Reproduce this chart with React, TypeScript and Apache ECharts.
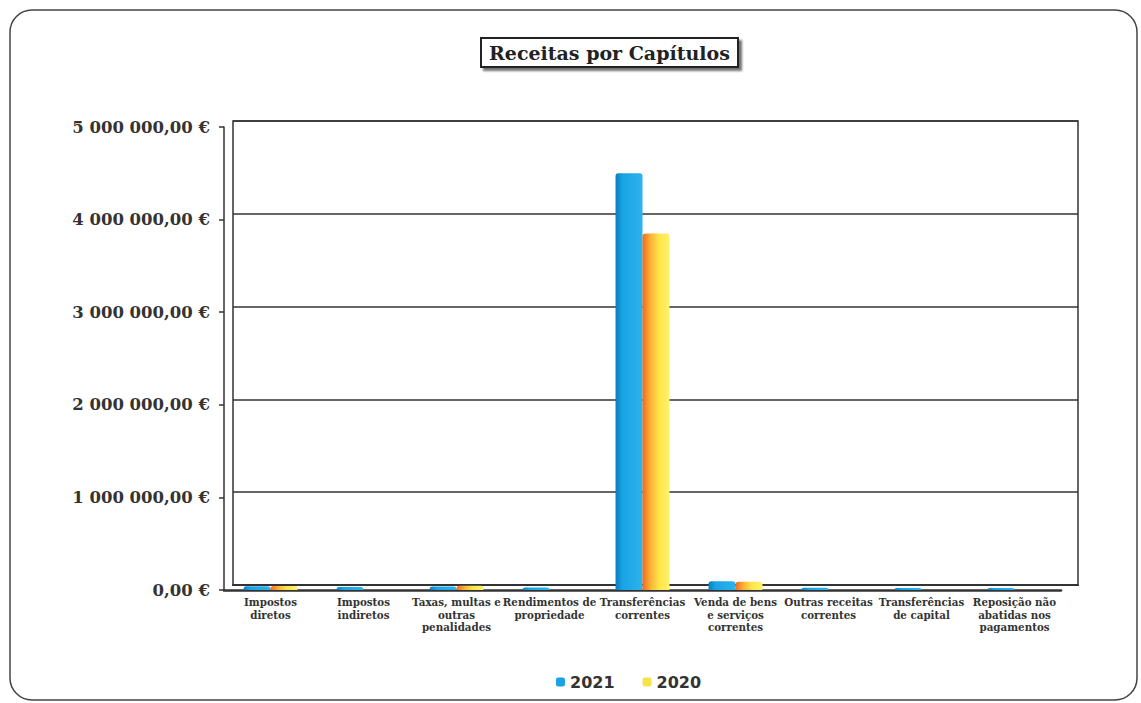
import React, { useEffect, useRef } from "react";
import * as echarts from "echarts";

const categories = [
  "Impostos\ndiretos",
  "Impostos\nindiretos",
  "Taxas, multas e\noutras\npenalidades",
  "Rendimentos de\npropriedade",
  "Transferências\ncorrentes",
  "Venda de bens\ne serviços\ncorrentes",
  "Outras receitas\ncorrentes",
  "Transferências\nde capital",
  "Reposição não\nabatidas nos\npagamentos",
];
const values2021 = [40000, 32000, 38000, 28000, 4500000, 95000, 25000, 22000, 22000];
const values2020 = [42000, 0, 45000, 0, 3850000, 90000, 0, 0, 0];
const yTicks = { min: 0, max: 5000000, interval: 1000000 };
const titleText = "Receitas por Capítulos";
const seriesNames = ["2021", "2020"];

function fmtEuro(v: number): string {
  const parts = Math.round(v).toString().replace(/\B(?=(\d{3})+(?!\d))/g, " ");
  return parts + ",00 €";
}

export default function App() {
  const ref = useRef<HTMLDivElement>(null);
  useEffect(() => {
    if (!ref.current) return;
    const chart = echarts.init(ref.current, null, { renderer: "svg" });
    const blue = new echarts.graphic.LinearGradient(0, 0, 1, 0, [
      { offset: 0, color: "#0a7cc0" },
      { offset: 0.25, color: "#19a3e4" },
      { offset: 1, color: "#2db3ee" },
    ]);
    const yellow = new echarts.graphic.LinearGradient(0, 0, 1, 0, [
      { offset: 0, color: "#ee6a22" },
      { offset: 0.3, color: "#ffb236" },
      { offset: 0.6, color: "#ffe448" },
      { offset: 1, color: "#fff26a" },
    ]);
    chart.setOption({
      animation: false,
      backgroundColor: "#ffffff",
      title: {
        text: titleText,
        left: 481,
        top: 38,
        padding: [5, 8],
        borderColor: "#222",
        borderWidth: 2,
        backgroundColor: "#fff",
        shadowColor: "rgba(0,0,0,0.55)",
        shadowOffsetX: 3,
        shadowOffsetY: 3,
        shadowBlur: 2,
        textStyle: {
          fontFamily: "DejaVu Serif",
          fontWeight: "bold",
          fontSize: 19,
          color: "#222",
        },
      },
      legend: {
        data: [
          { name: seriesNames[0], itemStyle: { color: "#19a3e4" } },
          { name: seriesNames[1], itemStyle: { color: "#f7e24a" } },
        ],
        bottom: 8,
        left: 551,
        itemWidth: 9,
        itemHeight: 9,
        itemGap: 28,
        icon: "roundRect",
        textStyle: {
          fontFamily: "DejaVu Sans",
          fontWeight: "bold",
          fontSize: 16,
          color: "#333",
        },
      },
      graphic: [
        {
          type: "rect",
          shape: { x: 10, y: 10, width: 1127, height: 690, r: 22 },
          style: { fill: "none", stroke: "#444", lineWidth: 1.5 },
          silent: true,
          z: 100,
        },
      ],
      grid: [
        {
          left: 233,
          right: 63,
          top: 121,
          bottom: 118,
          show: true,
          borderColor: "#333",
          borderWidth: 1.5,
        },
        {
          left: 224,
          right: 80,
          top: 127,
          bottom: 113,
        },
      ],
      xAxis: [
        {
          type: "category",
          gridIndex: 0,
          data: categories,
          axisLine: { show: true, lineStyle: { color: "#333", width: 2 } },
          axisTick: { show: false },
          axisLabel: { show: false },
        },
        {
          type: "category",
          gridIndex: 1,
          data: categories,
          axisLine: { show: true, lineStyle: { color: "#333", width: 2.5 } },
          axisTick: { show: false },
          axisLabel: {
            interval: 0,
            margin: 6,
            fontFamily: "DejaVu Serif",
            fontWeight: "bold",
            fontSize: 10.3,
            lineHeight: 12.5,
            color: "#333",
          },
        },
      ],
      yAxis: [
        {
          type: "value",
          gridIndex: 0,
          min: yTicks.min,
          max: yTicks.max,
          interval: yTicks.interval,
          axisLine: { show: false },
          axisTick: { show: false },
          axisLabel: { show: false },
          splitLine: { show: true, lineStyle: { color: "#333", width: 1.5 } },
        },
        {
          type: "value",
          gridIndex: 1,
          min: yTicks.min,
          max: yTicks.max,
          interval: yTicks.interval,
          axisLine: { show: true, lineStyle: { color: "#333", width: 1.5 } },
          axisTick: { show: true, length: 5, lineStyle: { color: "#333", width: 1.5 } },
          splitLine: { show: false },
          axisLabel: {
            margin: 14,
            formatter: (v: number) => fmtEuro(v),
            fontFamily: "DejaVu Serif",
            fontWeight: "bold",
            fontSize: 16.5,
            color: "#333",
          },
        },
      ],
      series: [
        {
          name: seriesNames[0],
          type: "bar",
          xAxisIndex: 1,
          yAxisIndex: 1,
          data: values2021,
          barGap: "0%",
          barCategoryGap: "42%",
          itemStyle: { color: blue, borderRadius: [3, 3, 0, 0] },
        },
        {
          name: seriesNames[1],
          type: "bar",
          xAxisIndex: 1,
          yAxisIndex: 1,
          data: values2020,
          itemStyle: { color: yellow, borderRadius: [3, 3, 0, 0] },
        },
      ],
      color: ["#19a3e4", "#f7e24a"],
    });
    return () => chart.dispose();
  }, []);
  return (
    <div
      ref={ref}
      style={{ position: "fixed", left: 0, top: 0, width: 1141, height: 703 }}
    />
  );
}
